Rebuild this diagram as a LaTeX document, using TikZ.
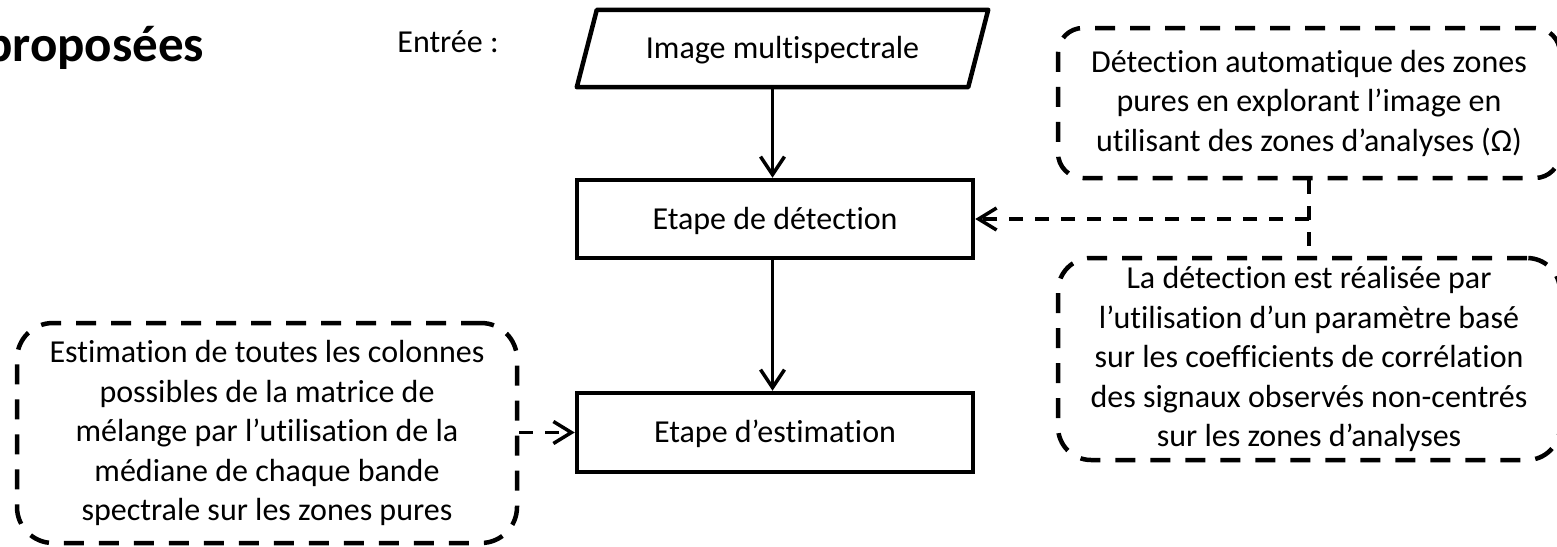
\documentclass[tikz,border=0pt]{standalone}
\usepackage{fontspec}
\setmainfont{Carlito}[Ligatures=NoCommon]
\usetikzlibrary{arrows.meta}
\begin{document}
\begin{tikzpicture}[x=1pt,y=-1pt,
  txt/.style={font=\fontsize{32}{39.5}\selectfont},
  solidbox/.style={draw, line width=4.5pt, minimum width=396pt, minimum height=78pt,
    inner sep=0pt, txt, text height=20.6pt, text depth=0pt},
  dbox/.style={draw, line width=4.5pt, dash pattern=on 20pt off 15pt, align=center,
    txt, inner sep=0pt},
  arr/.style={line width=3.5pt, -{Straight Barb[length=18pt,width=24pt,line width=3.5pt]}},
  dline/.style={line width=3.5pt, dash pattern=on 14pt off 12pt},
  darr/.style={dline, -{Straight Barb[length=18pt,width=22pt,line width=3.5pt]}}
]
\useasboundingbox (0,0) rectangle (1557,546);

\node[font=\fontsize{51}{60}\selectfont\bfseries, anchor=base west, inner sep=0pt] (title) at (-15,61) {proposées};
\node[txt, anchor=base, inner sep=0pt] (entree) at (448,52) {Entrée :};

\node[txt, minimum width=411pt, minimum height=77pt, inner sep=0pt,
  text height=20.6pt, text depth=0pt] (img) at (782.5,48.5) {Image multispectrale};
\draw[line width=4.5pt, line join=round] ([xshift=20pt]img.north west) -- (img.north east)
  -- ([xshift=-20pt]img.south east) -- (img.south west) -- cycle;
\coordinate (imgb) at ([xshift=-10pt]img.south);

\node[solidbox] (det) at (775,219) {Etape de détection};
\node[solidbox, minimum height=79pt] (est) at (775,432.5) {Etape d’estimation};

\draw[arr] (imgb) -- (imgb |- det.north);
\draw[arr] (det.south -| imgb) -- (imgb |- est.north);

\node[dbox, minimum width=502pt, minimum height=150pt, rounded corners=25pt] (dtop) at (1309,103)
  {Détection automatique des zones\\pures en explorant l’image en\\utilisant des zones d’analyses (Ω)};
\node[dbox, minimum width=502pt, minimum height=202pt, rounded corners=33pt] (dbot) at (1309,359)
  {La détection est réalisée par\\l’utilisation d’un paramètre basé\\sur les coefficients de corrélation\\des signaux observés non-centrés\\sur les zones d’analyses};
\node[dbox, minimum width=500pt, minimum height=220pt, rounded corners=36pt] (dleft) at (267,433)
  {Estimation de toutes les colonnes\\possibles de la matrice de\\mélange par l’utilisation de la\\médiane de chaque bande\\spectrale sur les zones pures};

\draw[dline] (dtop.south) -- (dbot.north);
\draw[darr] (dtop.south |- det.east) -- (det.east);
\draw[darr] (dleft.east |- est.west) -- (est.west);
\end{tikzpicture}
\end{document}
